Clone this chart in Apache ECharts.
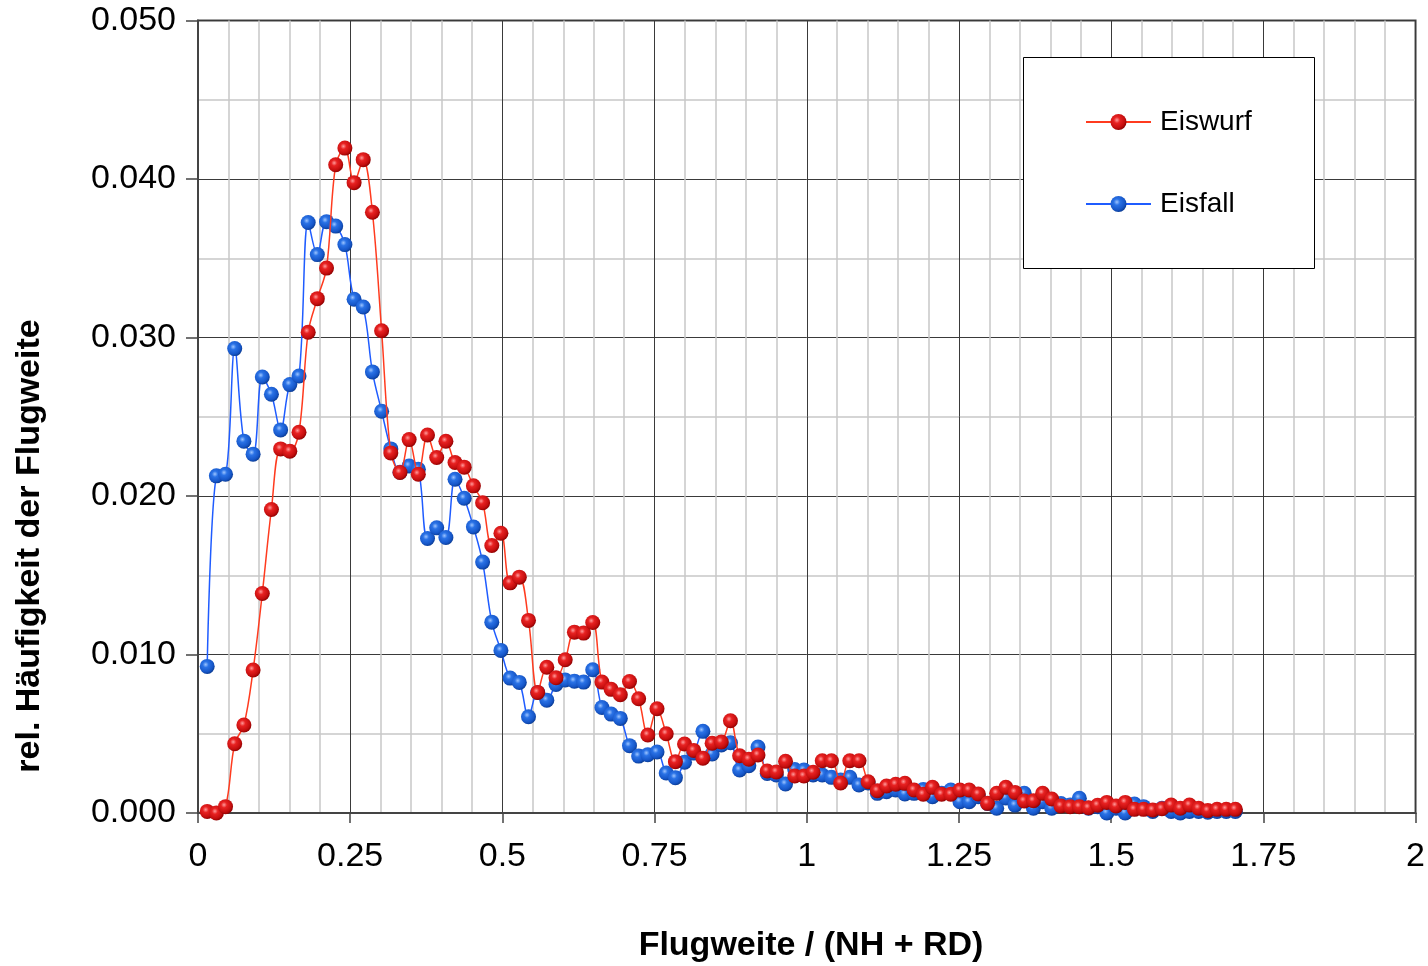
<!DOCTYPE html>
<html>
<head>
<meta charset="utf-8">
<script src="https://cdn.jsdelivr.net/npm/echarts@6/dist/echarts.min.js"></script>
<style>html,body{margin:0;padding:0;background:#fff;}#c{width:1428px;height:966px;}</style>
</head>
<body>
<div id="c"></div>
<script>
// x positions (Flugweite / (NH + RD)), one per bin
const xValues = [0.0151,0.0302,0.0452,0.0603,0.0754,0.0905,0.1056,0.1206,0.1357,0.1508,
0.1659,0.1810,0.1960,0.2111,0.2262,0.2413,0.2564,0.2714,0.2865,0.3016,
0.3167,0.3318,0.3468,0.3619,0.3770,0.3921,0.4072,0.4222,0.4373,0.4524,
0.4675,0.4826,0.4976,0.5127,0.5278,0.5429,0.5580,0.5730,0.5881,0.6032,
0.6183,0.6334,0.6484,0.6635,0.6786,0.6937,0.7088,0.7238,0.7389,0.7540,
0.7691,0.7842,0.7992,0.8143,0.8294,0.8445,0.8596,0.8746,0.8897,0.9048,
0.9199,0.9350,0.9500,0.9651,0.9802,0.9953,1.0104,1.0254,1.0405,1.0556,
1.0707,1.0858,1.1008,1.1159,1.1310,1.1461,1.1612,1.1762,1.1913,1.2064,
1.2215,1.2366,1.2516,1.2667,1.2818,1.2969,1.3120,1.3270,1.3421,1.3572,
1.3723,1.3874,1.4024,1.4175,1.4326,1.4477,1.4628,1.4778,1.4929,1.5080,
1.5231,1.5382,1.5532,1.5683,1.5834,1.5985,1.6136,1.6286,1.6437,1.6588,
1.6739,1.6890,1.7040];

// Eiswurf (red), values in 1/1000
const eiswurf = [0.1,0.0,0.4,4.37,5.55,9.02,13.85,19.15,22.97,22.83,
24.02,30.33,32.45,34.38,40.9,41.95,39.77,41.22,37.9,30.43,
22.72,21.48,23.56,21.37,23.85,22.43,23.45,22.11,21.82,20.64,
19.57,16.88,17.65,14.52,14.88,12.15,7.61,9.2,8.53,9.67,
11.41,11.35,12.02,8.26,7.8,7.46,8.3,7.21,4.92,6.58,
5.0,3.24,4.35,3.95,3.45,4.4,4.48,5.82,3.61,3.39,
3.66,2.65,2.59,3.26,2.33,2.33,2.57,3.3,3.3,1.89,
3.3,3.3,1.97,1.41,1.7,1.81,1.87,1.45,1.18,1.62,
1.18,1.18,1.45,1.45,1.2,0.61,1.24,1.62,1.3,0.76,
0.78,1.24,0.88,0.44,0.4,0.4,0.33,0.49,0.67,0.44,
0.67,0.23,0.23,0.19,0.27,0.5,0.3,0.5,0.3,0.15,
0.23,0.23,0.23];

// Eisfall (blue), values in 1/1000
const eisfall = [9.25,21.27,21.37,29.3,23.46,22.64,27.51,26.42,24.17,27.03,
27.57,37.26,35.23,37.31,37.03,35.86,32.41,31.92,27.83,25.35,
22.97,21.5,21.9,21.69,17.32,17.99,17.38,21.06,19.86,18.05,
15.83,12.04,10.26,8.51,8.24,6.07,7.6,7.12,8.11,8.39,
8.32,8.26,9.04,6.66,6.24,5.97,4.25,3.59,3.68,3.85,
2.52,2.23,3.2,3.78,5.15,3.72,4.29,4.43,2.71,2.98,
4.16,2.5,2.4,1.83,2.74,2.71,2.4,2.4,2.25,2.08,
2.25,1.77,1.9,1.24,1.34,1.45,1.2,1.24,1.49,1.03,
1.24,1.45,0.71,0.71,1.03,0.6,0.3,0.95,0.5,1.24,
0.3,0.71,0.3,0.6,0.5,0.93,0.3,0.4,0.0,0.3,
0.0,0.57,0.4,0.1,0.3,0.1,0.0,0.1,0.1,0.05,
0.1,0.1,0.1];

const xTicks = ['0','0.25','0.5','0.75','1','1.25','1.5','1.75','2'];
const seriesNames = ['Eiswurf','Eisfall'];

const pairs = (ys) => ys.map((v, i) => [xValues[i], v / 1000]);

const font = '"Liberation Sans", Arial, sans-serif';
const redBall = {type:'radial', x:0.4, y:0.38, r:0.65, colorStops:[
  {offset:0, color:'#ff9a9a'},{offset:0.3, color:'#e82222'},{offset:0.75, color:'#c40e0e'},{offset:1, color:'#8a0000'}]};
const blueBall = {type:'radial', x:0.4, y:0.38, r:0.65, colorStops:[
  {offset:0, color:'#9cc4ff'},{offset:0.3, color:'#2a72e6'},{offset:0.75, color:'#1656c8'},{offset:1, color:'#0a3a90'}]};

const chart = echarts.init(document.getElementById('c'));
chart.setOption({
  animation: false,
  backgroundColor: '#fff',
  grid: {left:198, right:10, top:20.5, bottom:153, show:true, borderColor:'#444', borderWidth:2, backgroundColor:'transparent'},
  xAxis: {
    type:'value', min:0, max:2, interval:0.25,
    axisLine:{show:true, lineStyle:{color:'#444', width:2}},
    axisTick:{show:true, length:10, lineStyle:{color:'#444', width:1.5}},
    axisLabel:{color:'#000', fontSize:34, fontFamily:font, margin:27,
      formatter:(v)=>xTicks[Math.round(v/0.25)]},
    splitLine:{show:true, lineStyle:{color:'#3a3a3a', width:1}},
    minorTick:{show:false, splitNumber:5},
    minorSplitLine:{show:true, lineStyle:{color:'#c8c8c8', width:1.5}}
  },
  yAxis: {
    type:'value', min:0, max:0.05, interval:0.01,
    axisLine:{show:true, lineStyle:{color:'#444', width:2}},
    axisTick:{show:true, length:12, lineStyle:{color:'#444', width:1.5}},
    axisLabel:{color:'#000', fontSize:34, fontFamily:font, margin:22,
      formatter:(v)=>v.toFixed(3)},
    splitLine:{show:true, lineStyle:{color:'#3a3a3a', width:1}},
    minorTick:{show:false, splitNumber:2},
    minorSplitLine:{show:true, lineStyle:{color:'#c8c8c8', width:1.5}}
  },
  legend: {
    data: seriesNames,
    orient:'vertical', left:1080, top:103, itemGap:54,
    itemWidth:65, itemHeight:20, z:20,
    textStyle:{color:'#000', fontSize:28, fontFamily:font, padding:[0,0,0,4]}
  },
  graphic: [
    {type:'rect', z:10, shape:{x:1023.5, y:57.5, width:291, height:211},
      style:{fill:'#fff', stroke:'#000', lineWidth:1}},
    {type:'text', z:10, x:811, y:946, style:{text:'Flugweite / (NH + RD)', font:'bold 34px "Liberation Sans", Arial, sans-serif', fill:'#000', textAlign:'center', textVerticalAlign:'middle'}},
    {type:'text', z:10, x:30, y:546, rotation:Math.PI/2, style:{text:'rel. Häufigkeit der Flugweite', font:'bold 34px "Liberation Sans", Arial, sans-serif', fill:'#000', textAlign:'center', textVerticalAlign:'middle'}}
  ],
  series: [
    {name: seriesNames[1], type:'line', data: pairs(eisfall), smooth:0.35,
      symbol:'circle', symbolSize:15, showAllSymbol:true,
      lineStyle:{color:'#1f5cff', width:1.5},
      itemStyle:{color: blueBall, borderWidth:0}, z:2},
    {name: seriesNames[0], type:'line', data: pairs(eiswurf), smooth:0.35,
      symbol:'circle', symbolSize:15, showAllSymbol:true,
      lineStyle:{color:'#ff3b1f', width:1.5},
      itemStyle:{color: redBall, borderWidth:0}, z:3}
  ]
});
</script>
</body>
</html>
